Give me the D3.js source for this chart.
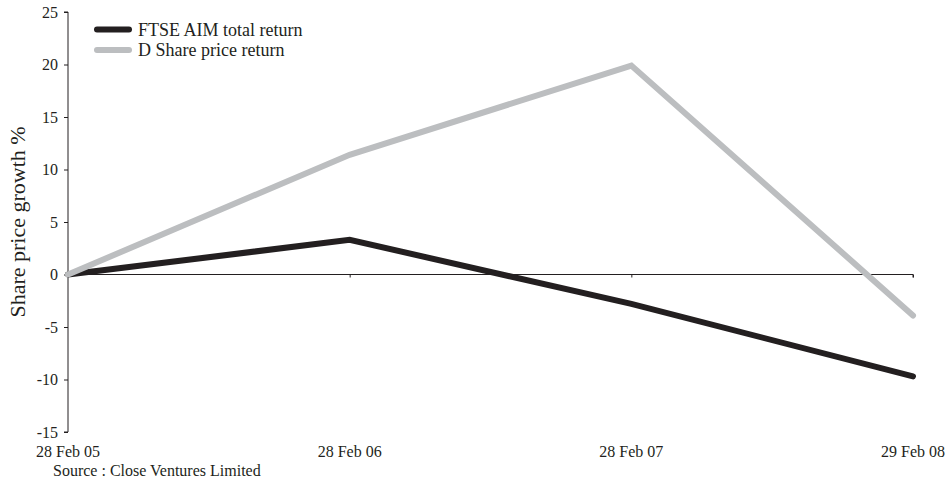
<!DOCTYPE html>
<html>
<head>
<meta charset="utf-8">
<script src="https://cdn.jsdelivr.net/npm/d3@7"></script>
<style>
  body { margin: 0; background: #fff; }
  svg, svg text { font-family: "Liberation Serif", "Times New Roman", serif; }
</style>
</head>
<body>
<svg id="chart" width="945" height="481"></svg>
<script>
// Data.
const dates = ['28 Feb 05', '28 Feb 06', '28 Feb 07', '29 Feb 08'];
const ftseAim = [0, 3.3, -2.8, -9.7];
const dShare = [0, 11.4, 19.9, -3.9];
const yTicks = [-15, -10, -5, 0, 5, 10, 15, 20, 25];

const series = [
  { name: 'FTSE AIM total return', values: ftseAim, colour: '#231f20' },
  { name: 'D Share price return', values: dShare, colour: '#bcbec0' },
];

const svg = d3.select('#chart');

const x = d3.scalePoint().domain(dates).range([68, 913]);
const y = d3.scaleLinear().domain([-15, 25]).range([432, 12]);

// Y axis: ticks pointing left. Plain hyphen for negatives, like the original.
const yAxis = svg
  .append('g')
  .attr('transform', 'translate(68,0)')
  .call(
    d3
      .axisLeft(y)
      .tickValues(yTicks)
      .tickSize(4)
      .tickPadding(6)
      .tickFormat((d) => String(d))
  )
  .attr('font-family', null)
  .attr('font-size', null);
yAxis.select('.domain').attr('stroke', '#231f20').attr('d', `M-4,${y(25)}H0V${y(-15)}H-4`);
yAxis.selectAll('.tick line').attr('stroke', '#231f20');
yAxis.selectAll('.tick text').attr('font-size', 16).attr('fill', '#231f20');

// X axis runs along zero, small ticks pointing down.
const xAxis = svg
  .append('g')
  .attr('transform', `translate(0,${y(0)})`)
  .call(d3.axisBottom(x).tickSize(3).tickFormat(''));
xAxis.select('.domain').attr('stroke', '#231f20').attr('d', `M68,0H913V3`);
xAxis.selectAll('.tick line').attr('stroke', '#231f20');

// Date labels sit below the plot, not on the zero line.
svg
  .append('g')
  .selectAll('text')
  .data(dates)
  .join('text')
  .attr('x', (d) => x(d))
  .attr('y', 457)
  .attr('text-anchor', 'middle')
  .attr('font-size', 16)
  .attr('fill', '#231f20')
  .text((d) => d);

// Lines.
const line = d3
  .line()
  .x((d, i) => x(dates[i]))
  .y((d) => y(d));

svg
  .append('g')
  .selectAll('path')
  .data(series)
  .join('path')
  .attr('d', (s) => line(s.values))
  .attr('fill', 'none')
  .attr('stroke', (s) => s.colour)
  .attr('stroke-width', 6)
  .attr('stroke-linecap', 'round')
  .attr('stroke-linejoin', 'miter');

// Legend.
const legend = svg
  .append('g')
  .selectAll('g')
  .data(series)
  .join('g')
  .attr('transform', (_, i) => `translate(97,${29.5 + i * 20.5})`);
legend
  .append('line')
  .attr('x1', 0)
  .attr('x2', 32)
  .attr('stroke', (s) => s.colour)
  .attr('stroke-width', 6)
  .attr('stroke-linecap', 'round');
legend
  .append('text')
  .attr('x', 41)
  .attr('y', 6)
  .attr('font-size', 18)
  .attr('fill', '#231f20')
  .text((s) => s.name);

// Y axis title.
svg
  .append('text')
  .attr('transform', `translate(25,222) rotate(-90)`)
  .attr('text-anchor', 'middle')
  .attr('font-size', 22)
  .attr('fill', '#231f20')
  .text('Share price growth %');

// Source note.
svg
  .append('text')
  .attr('x', 53)
  .attr('y', 476)
  .attr('font-size', 16)
  .attr('fill', '#231f20')
  .text('Source : Close Ventures Limited');
</script>
</body>
</html>
